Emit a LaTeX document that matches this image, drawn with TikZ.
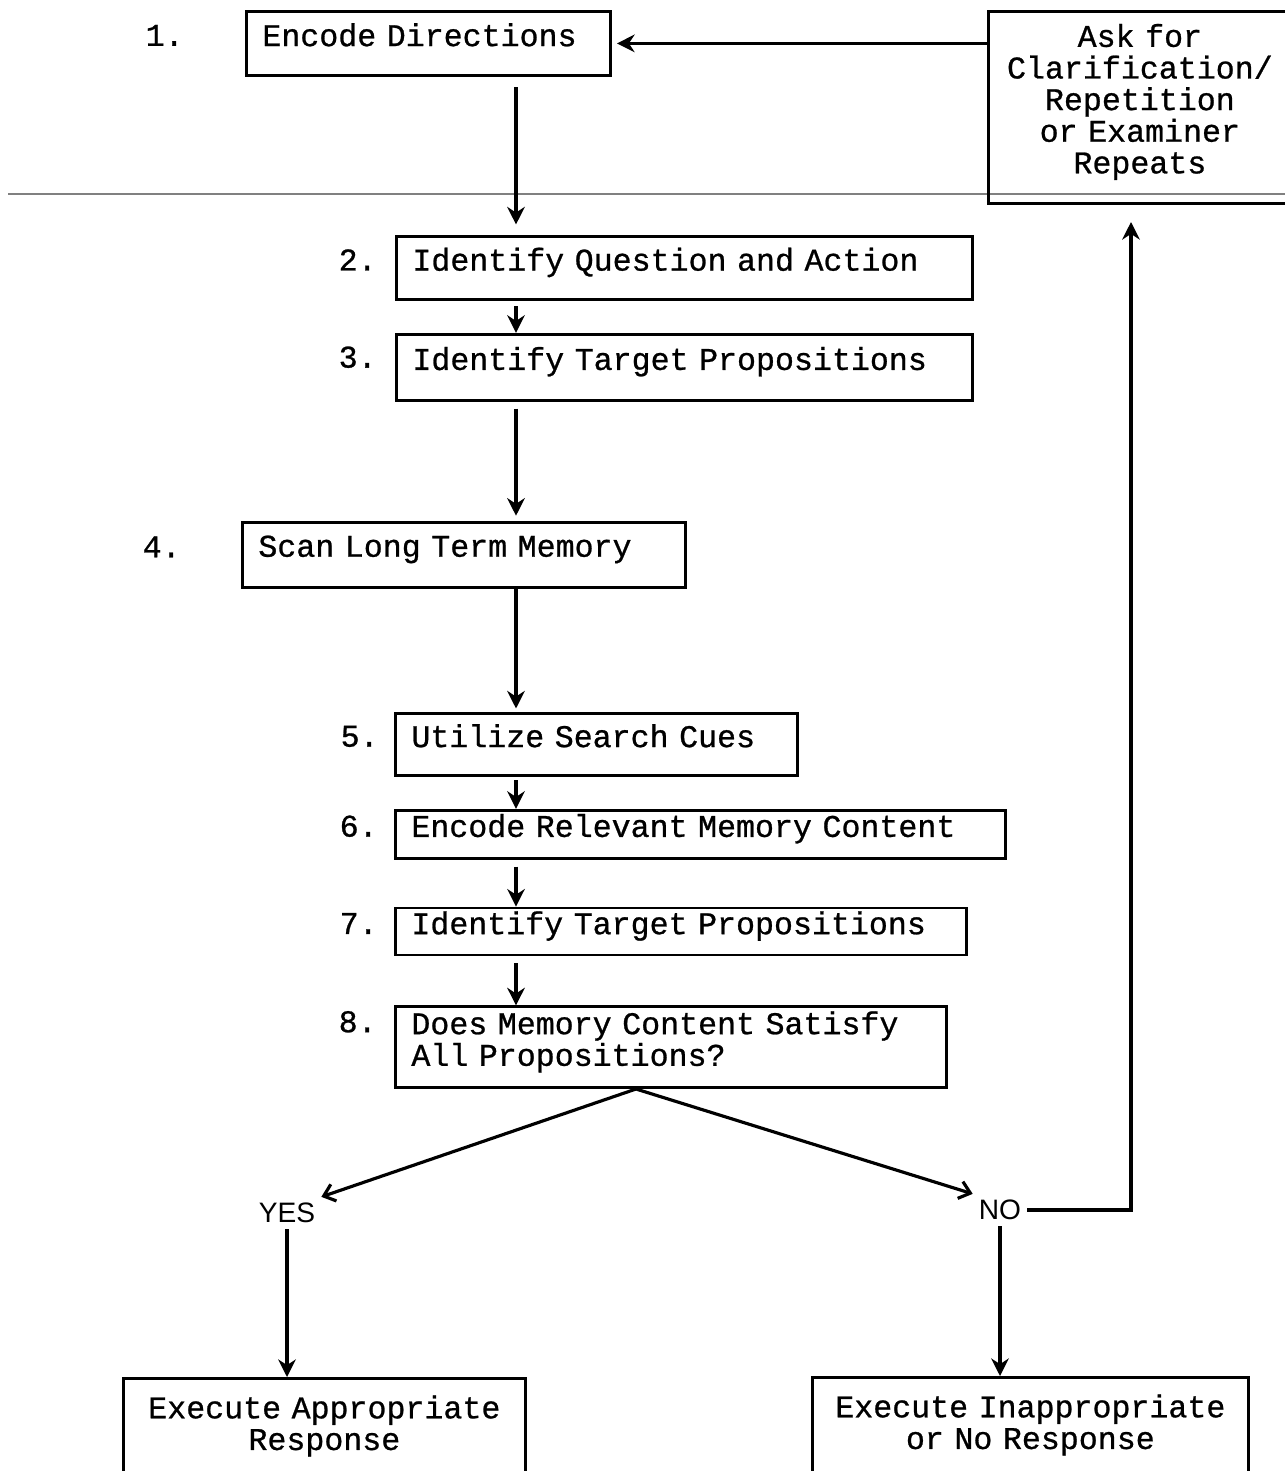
\documentclass[tikz,border=0pt]{standalone}
\usepackage{fontspec}
\setmonofont{Liberation Mono}[FakeBold=0.8]
\newfontfamily\answerfont{Liberation Sans}
\usetikzlibrary{positioning,arrows.meta}

\newcommand{\stepfont}{\ttfamily\fontsize{18}{18}\selectfont}

\tikzset{
	stepbox/.style={draw, line width=1.6pt, font=\stepfont, align=left, anchor=north west, inner xsep=0.32cm, inner ysep=0.05cm, execute at end node={\rule[-0.35cm]{0pt}{0pt}}},
	num/.style={font=\stepfont, inner sep=0pt, yshift=0.16cm},
	answer/.style={font=\answerfont\fontsize{16}{16}\selectfont},
	flow/.style={line width=2pt, -{Stealth[length=10pt,width=10pt]}},
	branch/.style={line width=1.8pt, {Straight Barb[length=6pt,width=10pt]}-{Straight Barb[length=6pt,width=10pt]}},
	fold/.style={gray, line width=0.8pt},
}

\begin{document}
\begin{tikzpicture}[x=0.02cm, y=-0.02cm]
	\useasboundingbox (0,0) rectangle (1285,1471);
	\draw[fold] (8,194) -- (1290,194);
	
	\node[stepbox, text width=6.64cm, minimum height=1.28cm, label={[num, label distance=1.22cm]left:1.}] (b1) at (245,10) {Encode Directions};
	\node[stepbox, text width=10.88cm, minimum height=1.26cm, label={[num, label distance=0.36cm]left:2.}] (b2) at (395,235) {Identify Question and Action};
	\node[stepbox, text width=10.88cm, minimum height=1.32cm, label={[num, label distance=0.36cm, yshift=0.04cm]left:3.}, below=0.64cm of b2.south west, anchor=north west] (b3) {Identify Target Propositions};
	\node[stepbox, text width=8.22cm, minimum height=1.30cm, label={[num, label distance=1.20cm]left:4.}] (b4) at (241,521) {Scan Long Term Memory};
	\node[stepbox, text width=7.40cm, minimum height=1.24cm, label={[num, label distance=0.30cm]left:5.}] (b5) at (394,712) {Utilize Search Cues};
	\node[stepbox, text width=11.56cm, minimum height=0.96cm, label={[num, label distance=0.32cm]left:6.}, below=0.64cm of b5.south west, anchor=north west] (b6) {Encode Relevant Memory Content};
	\node[stepbox, text width=10.78cm, minimum height=0.94cm, label={[num, label distance=0.32cm]left:7.}, below=0.94cm of b6.south west, anchor=north west] (b7) {Identify Target Propositions};
	\node[stepbox, text width=10.38cm, minimum height=1.62cm, label={[num, label distance=0.34cm, yshift=0.35cm]left:8.}, below=0.98cm of b7.south west, anchor=north west] (b8) {Does Memory Content Satisfy\\All Propositions?};
	
	\node[stepbox, align=center, inner xsep=0.2cm, text width=5.66cm, minimum height=3.84cm] (ask) at (987,10) {Ask for\\Clarification/\\Repetition\\or Examiner\\Repeats};
	
	\node[answer] (yes) at (287,1213) {YES};
	\node[answer] (no) at (1000,1210) {NO};
	\node[stepbox, align=center, inner xsep=0.3cm, inner ysep=0.34cm, text width=7.44cm] (appropriate) at (122,1377) {Execute Appropriate\\Response\rule[-3cm]{0pt}{0pt}};
	\node[stepbox, align=center, inner xsep=0.2cm, inner ysep=0.34cm, text width=8.32cm] (inappropriate) at (811,1376) {Execute Inappropriate\\or No Response\rule[-3cm]{0pt}{0pt}};
	
	\coordinate (spine) at (516,0);
	\coordinate (split) at (636,1089);
	\coordinate (back) at (1131,222);
	
	\draw[flow, shorten >=3pt] (ask.west |- b1.east) -- (b1.east);
	\draw[flow, shorten <=6pt, shorten >=6pt] (b1.south -| spine) -- (b2.north -| spine);
	\draw[flow, shorten <=3pt] (b2.south -| spine) -- (b3.north -| spine);
	\draw[flow, shorten <=4pt, shorten >=3pt] (b3.south -| spine) -- (b4.north -| spine);
	\draw[flow, shorten >=2pt] (b4.south -| spine) -- (b5.north -| spine);
	\draw[flow, shorten <=2pt] (b5.south -| spine) -- (b6.north -| spine);
	\draw[flow, shorten <=4pt] (b6.south -| spine) -- (b7.north -| spine);
	\draw[flow, shorten <=4pt] (b7.south -| spine) -- (b8.north -| spine);
	
	\draw[branch] (yes.north east) -- (split) -- (no.north west);
	\draw[flow] (yes) -- (yes |- appropriate.north);
	\draw[flow] (no) -- (no |- inappropriate.north);
	\draw[flow] (no.east) -| (back);
\end{tikzpicture}
\end{document}
